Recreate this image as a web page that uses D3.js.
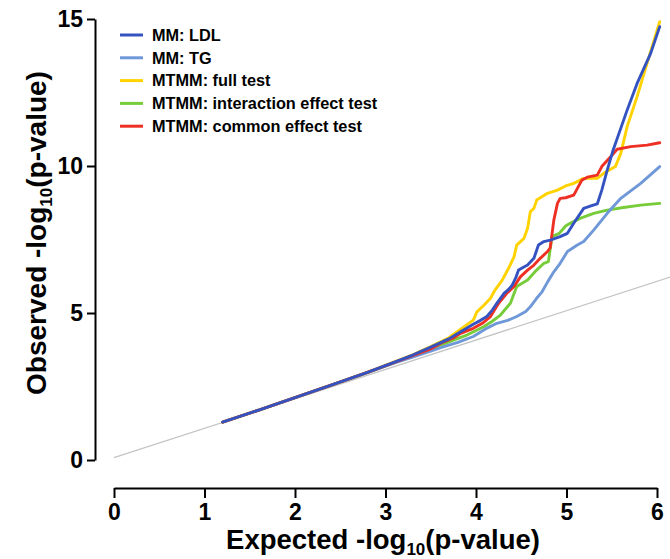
<!DOCTYPE html>
<html>
<head>
<meta charset="utf-8">
<script src="https://cdn.jsdelivr.net/npm/d3@7"></script>
<style>
  html, body { margin: 0; padding: 0; background: #fff; }
  svg { display: block; }
  text { font-family: "Liberation Sans", Arial, Helvetica, sans-serif; font-weight: bold; }
</style>
</head>
<body>
<svg id="chart" width="670" height="559"></svg>
<script>
// ---- data ----
const xTicks = [0, 1, 2, 3, 4, 5, 6];
const yTicks = [0, 5, 10, 15];
const seriesNames = ["MM: LDL", "MM: TG", "MTMM: full test", "MTMM: interaction effect test", "MTMM: common effect test"];
const seriesColors = ["#3553c0", "#6f98d8", "#ffd200", "#77cc3a", "#ee3024"];

const refLine = [[0, 0.08], [6.15, 6.23]];

const ldl = [[1.2,1.29],[1.6,1.7],[2.0,2.12],[2.4,2.55],[2.8,2.98],[3.1,3.33],[3.3,3.57],[3.5,3.84],[3.7,4.12],[3.83,4.36],[3.97,4.62],[4.05,4.75],[4.12,4.88],[4.18,5.1],[4.23,5.33],[4.31,5.67],[4.36,5.8],[4.40,5.95],[4.44,6.2],[4.47,6.46],[4.52,6.55],[4.57,6.63],[4.64,6.86],[4.69,7.31],[4.75,7.43],[4.82,7.48],[4.93,7.60],[5.01,7.71],[5.08,8.05],[5.19,8.56],[5.27,8.64],[5.34,8.71],[5.39,9.18],[5.45,9.86],[5.51,10.49],[5.58,11.11],[5.67,11.9],[5.78,12.81],[5.93,13.83],[6.03,14.74]];
const tg = [[1.2,1.29],[1.6,1.7],[2.0,2.12],[2.4,2.55],[2.8,2.97],[3.1,3.3],[3.3,3.5],[3.5,3.7],[3.61,3.82],[3.8,4.0],[3.97,4.20],[4.1,4.45],[4.23,4.65],[4.35,4.75],[4.45,4.88],[4.55,5.05],[4.60,5.21],[4.67,5.50],[4.73,5.72],[4.79,6.05],[4.86,6.4],[4.93,6.69],[5.01,7.09],[5.12,7.31],[5.19,7.43],[5.30,7.82],[5.45,8.39],[5.60,8.90],[5.82,9.41],[6.03,9.98]];
const fullTest = [[1.2,1.29],[1.6,1.7],[2.0,2.12],[2.4,2.55],[2.8,2.98],[3.1,3.34],[3.3,3.58],[3.5,3.86],[3.7,4.16],[3.83,4.45],[3.97,4.76],[4.01,5.04],[4.09,5.27],[4.16,5.50],[4.21,5.78],[4.29,6.12],[4.36,6.52],[4.42,6.91],[4.45,7.31],[4.53,7.54],[4.57,7.88],[4.60,8.44],[4.64,8.56],[4.67,8.84],[4.79,9.07],[4.90,9.18],[4.99,9.32],[5.08,9.41],[5.19,9.58],[5.34,9.58],[5.41,9.75],[5.54,9.98],[5.60,10.43],[5.67,11.34],[5.78,12.36],[5.89,13.49],[6.03,14.91]];
const interaction = [[1.2,1.29],[1.6,1.7],[2.0,2.12],[2.4,2.55],[2.8,2.97],[3.1,3.31],[3.3,3.53],[3.5,3.75],[3.61,3.91],[3.75,4.08],[3.90,4.25],[4.09,4.54],[4.18,4.72],[4.27,4.93],[4.38,5.33],[4.45,5.90],[4.57,6.12],[4.67,6.46],[4.75,6.69],[4.80,6.75],[4.84,7.60],[4.92,7.71],[4.99,7.96],[5.04,8.05],[5.15,8.22],[5.30,8.39],[5.45,8.50],[5.63,8.59],[5.82,8.67],[6.03,8.73]];
const common = [[1.2,1.29],[1.6,1.7],[2.0,2.12],[2.4,2.55],[2.8,2.98],[3.1,3.32],[3.3,3.55],[3.5,3.78],[3.61,3.97],[3.75,4.15],[3.83,4.31],[3.97,4.48],[4.07,4.65],[4.16,4.88],[4.25,5.33],[4.34,5.67],[4.42,5.90],[4.49,6.23],[4.57,6.46],[4.64,6.63],[4.71,6.86],[4.79,7.09],[4.82,7.22],[4.86,8.16],[4.90,8.73],[4.93,8.9],[4.99,8.92],[5.08,9.01],[5.17,9.52],[5.23,9.62],[5.34,9.69],[5.39,9.98],[5.49,10.32],[5.56,10.57],[5.71,10.66],[5.89,10.71],[6.03,10.79]];

const seriesData = [ldl, tg, fullTest, interaction, common];
const drawOrder = [3, 1, 2, 4, 0];

// ---- chart ----
const svg = d3.select("#chart");
const x = d3.scaleLinear().domain([0, 6]).range([114, 657]);
const y = d3.scaleLinear().domain([0, 15]).range([460, 19]);

// y axis
const yAxisG = svg.append("g")
  .attr("transform", "translate(95,0)")
  .call(d3.axisLeft(y).tickValues(yTicks).tickFormat(d3.format("d")).tickSize(8).tickSizeOuter(0).tickPadding(4));
// x axis
const xAxisG = svg.append("g")
  .attr("transform", "translate(0,488)")
  .call(d3.axisBottom(x).tickValues(xTicks).tickFormat(d3.format("d")).tickSize(10).tickSizeOuter(0).tickPadding(6));

[yAxisG, xAxisG].forEach(g => {
  g.select(".domain").attr("stroke", "#000").attr("stroke-width", 2);
  g.selectAll(".tick line").attr("stroke", "#000").attr("stroke-width", 2);
  g.selectAll(".tick text").attr("fill", "#000")
    .style("font-size", "23px").style("font-weight", "bold")
    .style("font-family", "'Liberation Sans', Arial, sans-serif");
});

// reference line
const line = d3.line().x(d => x(d[0])).y(d => y(d[1]));
svg.append("path").datum(refLine)
  .attr("d", line).attr("fill", "none")
  .attr("stroke", "#c4c4c4").attr("stroke-width", 1.2);

// series
drawOrder.forEach(i => {
  svg.append("path").datum(seriesData[i])
    .attr("d", line)
    .attr("fill", "none")
    .attr("stroke", seriesColors[i])
    .attr("stroke-width", 2.9)
    .attr("stroke-linejoin", "round")
    .attr("stroke-linecap", "round");
});

// legend
const legend = svg.append("g");
seriesNames.forEach((name, i) => {
  const cy = 35 + i * 22.8;
  legend.append("line")
    .attr("x1", 120).attr("x2", 143).attr("y1", cy).attr("y2", cy)
    .attr("stroke", seriesColors[i]).attr("stroke-width", 3);
  legend.append("text")
    .attr("x", 152).attr("y", cy).attr("dy", "0.35em")
    .style("font-size", "16.3px").attr("fill", "#000")
    .text(name);
});

// axis titles
const xt = svg.append("text")
  .attr("x", 383).attr("y", 549).attr("text-anchor", "middle")
  .style("font-size", "27.5px").attr("fill", "#000");
xt.append("tspan").text("Expected -log");
xt.append("tspan").attr("dy", 6).style("font-size", "17px").text("10");
xt.append("tspan").attr("dy", -6).text("(p-value)");

const yt = svg.append("text")
  .attr("transform", "translate(46,233) rotate(-90)")
  .attr("text-anchor", "middle")
  .style("font-size", "28px").attr("fill", "#000");
yt.append("tspan").text("Observed -log");
yt.append("tspan").attr("dy", 6).style("font-size", "17px").text("10");
yt.append("tspan").attr("dy", -6).text("(p-value)");
</script>
</body>
</html>
